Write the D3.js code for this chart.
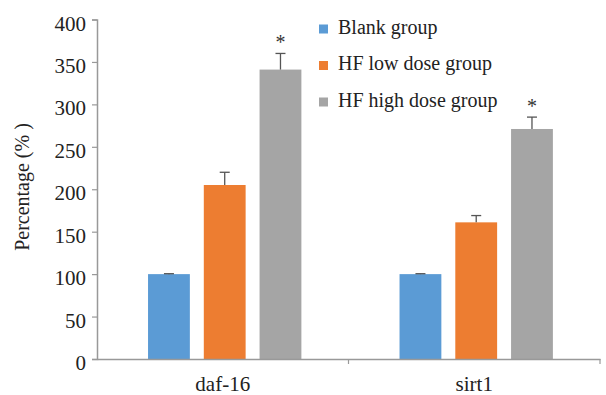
<!DOCTYPE html>
<html><head><meta charset="utf-8">
<script src="https://cdn.jsdelivr.net/npm/d3@7"></script>
<style>body{margin:0;background:#fff}svg{display:block}</style>
</head><body><div id="chart"></div>
<script>
const categories = ["daf-16", "sirt1"];
const seriesNames = ["Blank group", "HF low dose group", "HF high dose group"];
const blankValues = [100, 100];
const lowValues = [205, 161];
const highValues = [341, 271];
const blankErr = [0.5, 0.5];
const lowErr = [15, 8];
const highErr = [19, 14];
const highSig = ["*", "*"];
const yTicks = [0, 50, 100, 150, 200, 250, 300, 350, 400];
const colors = ["#5B9BD5", "#ED7D31", "#A5A5A5"];

const FONT = "Liberation Serif";
const W = 606, H = 395;
const m = {left: 97, right: 6, top: 19.5, bottom: 36};
const svg = d3.select("#chart").append("svg").attr("width", W).attr("height", H);

const x0 = d3.scaleBand().domain(categories).range([m.left, W - m.right]).paddingInner(0).paddingOuter(0);
const x1 = d3.scaleBand().domain(seriesNames).range([0, x0.bandwidth()]).paddingInner(0.25).paddingOuter(0.88).align(0.52);
const y = d3.scaleLinear().domain([0, 400]).range([H - m.bottom, m.top]);

const series = [
  {name: seriesNames[0], vals: blankValues, errs: blankErr, sig: null},
  {name: seriesNames[1], vals: lowValues, errs: lowErr, sig: null},
  {name: seriesNames[2], vals: highValues, errs: highErr, sig: highSig}
];

// y axis
const yAxis = svg.append("g").attr("transform", `translate(${m.left},0)`)
  .call(d3.axisLeft(y).tickValues(yTicks).tickSize(5).tickPadding(6));
yAxis.attr("font-family", FONT).attr("font-size", 21);
yAxis.select(".domain").attr("stroke", "#999").attr("stroke-width", 1.5);
yAxis.selectAll(".tick line").attr("stroke", "#999").attr("stroke-width", 1.2);
yAxis.selectAll("text").attr("fill", "#222").attr("dy", "0.5em");

// bars
series.forEach((s, si) => {
  const g = svg.append("g");
  categories.forEach((c, ci) => {
    const bx = x0(c) + x1(s.name);
    const bw = x1.bandwidth();
    g.append("rect").attr("x", bx).attr("y", y(s.vals[ci])).attr("width", bw)
      .attr("height", y(0) - y(s.vals[ci])).attr("fill", colors[si]);
    const cx = bx + bw / 2;
    const top = y(s.vals[ci] + s.errs[ci]);
    g.append("line").attr("x1", cx).attr("x2", cx).attr("y1", y(s.vals[ci])).attr("y2", top)
      .attr("stroke", "#555").attr("stroke-width", 1.3);
    g.append("line").attr("x1", cx - 5).attr("x2", cx + 5).attr("y1", top).attr("y2", top)
      .attr("stroke", "#555").attr("stroke-width", 1.3);
    if (s.sig) {
      g.append("text").attr("x", cx).attr("y", top - 4).attr("text-anchor", "middle")
        .attr("font-family", FONT).attr("font-size", 20).attr("fill", "#333").text(s.sig[ci]);
    }
  });
});

// x axis
const xAxis = svg.append("g").attr("transform", `translate(0,${y(0)})`)
  .call(d3.axisBottom(x0).tickSize(0).tickPadding(17));
xAxis.attr("font-family", FONT).attr("font-size", 21);
xAxis.select(".domain").attr("stroke", "#999").attr("stroke-width", 1.5);
xAxis.selectAll("text").attr("fill", "#222");
const bounds = [x0.range()[0] + x0.step(), x0.range()[1]];
svg.append("g").selectAll("line").data(bounds).join("line")
  .attr("x1", d => d).attr("x2", d => d).attr("y1", y(0)).attr("y2", y(0) + 5)
  .attr("stroke", "#999").attr("stroke-width", 1.2);

// y label
svg.append("text").attr("transform", `translate(29,187) rotate(-90)`)
  .attr("text-anchor", "middle").attr("font-family", FONT).attr("font-size", 20).attr("fill", "#222").text("Percentage (% )");

// legend
const lg = svg.append("g").attr("transform", "translate(319,29)");
seriesNames.forEach((n, i) => {
  const row = lg.append("g").attr("transform", `translate(0,${i * 36.5})`);
  row.append("rect").attr("x", 0).attr("y", -4.5).attr("width", 9).attr("height", 9).attr("fill", colors[i]);
  row.append("text").attr("x", 19).attr("y", 4.5).attr("font-family", FONT).attr("font-size", 20).attr("fill", "#222").text(n);
});
</script></body></html>
